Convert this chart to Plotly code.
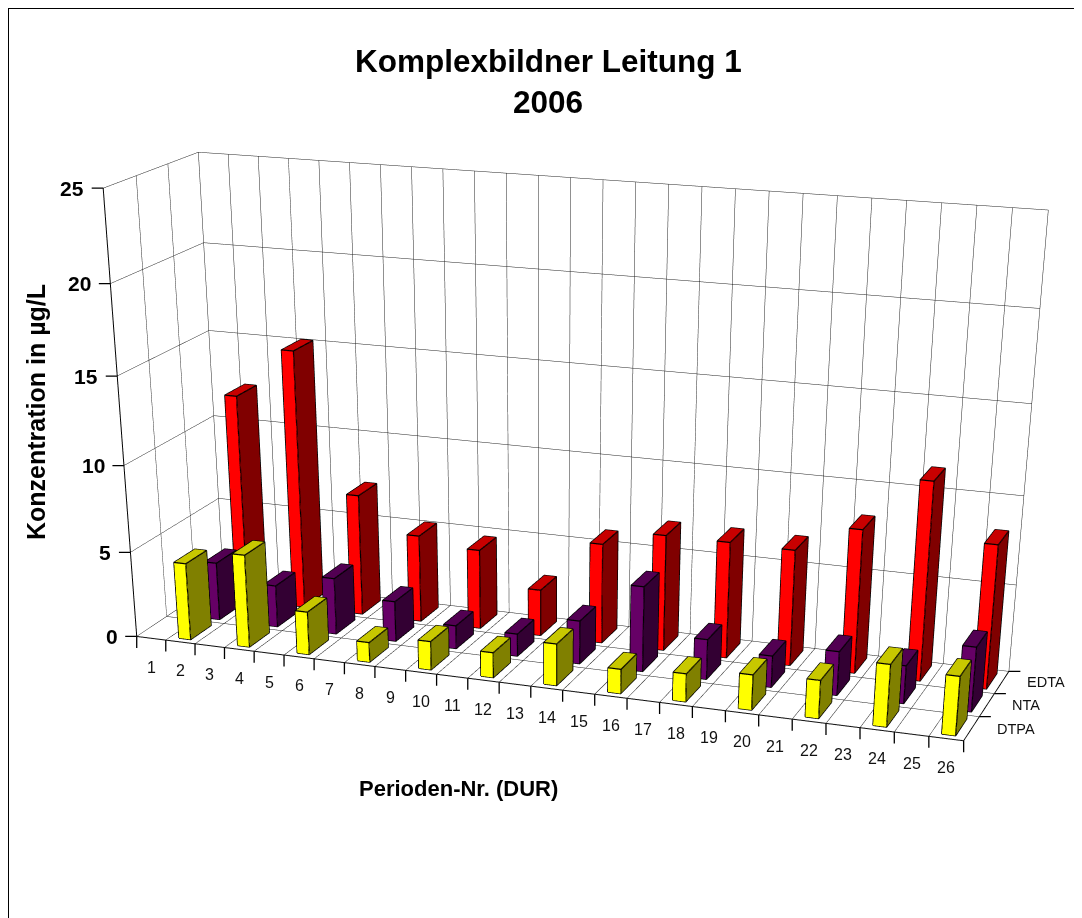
import plotly.graph_objects as go

# ---------- data ----------
periods = list(range(2, 27, 2))
all_periods = list(range(1, 27))
series_names = ["DTPA", "NTA", "EDTA"]
edta = [12.2, 15.1, 7.1, 5.1, 4.65, 2.7, 5.8, 6.7, 6.7, 6.65, 8.2, 11.25, 8.15]
nta = [3.4, 2.45, 3.3, 2.35, 1.35, 1.3, 2.5, 4.9, 2.3, 1.8, 2.5, 2.15, 3.65]
dtpa = [4.5, 5.4, 2.5, 1.15, 1.65, 1.45, 2.4, 1.4, 1.6, 2.0, 2.15, 3.5, 3.3]
z_ticks = [0, 5, 10, 15, 20, 25]

# ---------- layout constants ----------
# The page has an 8 px body margin. The plot is taller than the window so that the
# fixed 45 degree field of view of the 3D scene gives the reference's long-lens look.
W, H = 1074, 2320
FONT = "Liberation Sans, Arial, sans-serif"
BAR_W, BAR_D = 0.2, 0.35
PALETTE = {
    "DTPA": ("#FFFF00", "#808000", "#C8C800"),
    "NTA": ("#660066", "#330033", "#520052"),
    "EDTA": ("#FF0000", "#800000", "#C80000"),
}


def bars(name, row, values):
    front, side, top = PALETTE[name]
    xs, ys, zs, i, j, k, colors = [], [], [], [], [], [], []
    lx, ly, lz = [], [], []
    for per, val in zip(periods, values):
        n = len(xs)
        x0, x1, y0, y1 = per - BAR_W, per + BAR_W, row + 0.5 - BAR_D, row + 0.5 + BAR_D
        xs += [x0, x1, x1, x0, x0, x1, x1, x0]
        ys += [y0, y0, y1, y1, y0, y0, y1, y1]
        zs += [0, 0, 0, 0, val, val, val, val]
        faces = [((0, 1, 5), front), ((0, 5, 4), front), ((1, 2, 6), side),
                 ((1, 6, 5), side), ((4, 5, 6), top), ((4, 6, 7), top)]
        for (a, b, c), col in faces:
            i.append(n + a); j.append(n + b); k.append(n + c); colors.append(col)
        for path in [(0, 1, 2, 6, 7, 4, 0), (1, 5, 4), (5, 6)]:
            for v in path:
                lx.append(xs[n + v]); ly.append(ys[n + v]); lz.append(zs[n + v])
            lx.append(None); ly.append(None); lz.append(None)
    fig.add_trace(go.Mesh3d(x=xs, y=ys, z=zs, i=i, j=j, k=k, facecolor=colors, flatshading=True,
                            lighting=dict(ambient=1, diffuse=0, specular=0, fresnel=0, roughness=1),
                            hoverinfo="skip", showscale=False))
    fig.add_trace(go.Scatter3d(x=lx, y=ly, z=lz, mode="lines", line=dict(color="black", width=2.5),
                               hoverinfo="skip", showlegend=False))


fig = go.Figure()

# floor grid
gx, gy, gz = [], [], []
for b in range(0, 27):
    gx += [b + 0.5, b + 0.5, None]; gy += [0, 3, None]; gz += [0, 0, None]
for r in range(0, 4):
    gx += [0.5, 26.5, None]; gy += [r, r, None]; gz += [0, 0, None]
fig.add_trace(go.Scatter3d(x=gx, y=gy, z=gz, mode="lines", line=dict(color="#222", width=1),
                           hoverinfo="skip", showlegend=False))

bars("EDTA", 2, edta)
bars("NTA", 1, nta)
bars("DTPA", 0, dtpa)

ann3d = []
tick = dict(text="", showarrow=True, arrowhead=0, arrowwidth=1.3, arrowcolor="black")
for q in all_periods:
    ann3d.append(dict(x=q, y=0, z=0, text=str(q), showarrow=False, yshift=-29,
                      font=dict(family=FONT, size=16, color="#111")))
for b in range(0, 27):
    ann3d.append(dict(x=b + 0.5, y=0, z=0, ax=0, ay=13, **tick))
for r, name in enumerate(series_names):
    ann3d.append(dict(x=26.5, y=r + 0.5, z=0, text=name, showarrow=False, xanchor="left", xshift=23,
                      font=dict(family=FONT, size=14.5, color="#111")))
for r in range(1, 4):
    ann3d.append(dict(x=26.5, y=r, z=0, ax=13, ay=0, **tick))
for t in z_ticks:
    ann3d.append(dict(x=0.5, y=0, z=t, text=str(t), showarrow=False, xanchor="right", xshift=-17,
                      font=dict(family=FONT, size=21, color="black", weight="bold")))
    ann3d.append(dict(x=0.5, y=0, z=t, ax=-13, ay=0, **tick))


def axis(**kw):
    return dict(showticklabels=False, showbackground=False, showspikes=False, title=dict(text=""),
                showgrid=True, gridcolor="#222", gridwidth=1, showline=True, linecolor="black", linewidth=2,
                zeroline=False, ticks="", **kw)


def px(x):
    return (x - 8) / W


def py(y):
    return 1 - (y - 8) / H


def label(text, x, y, size, **kw):
    return dict(text=f"<b>{text}</b>", x=px(x), y=py(y), xref="paper", yref="paper", xanchor="center",
                yanchor="middle", showarrow=False, font=dict(family=FONT, size=size, color="black"), **kw)


fig.update_layout(
    width=W, height=H, margin=dict(l=0, r=0, t=0, b=0), showlegend=False, paper_bgcolor="white",
    scene=dict(
        domain=dict(x=[0, 1], y=[0, 1]),
        xaxis=axis(range=[0.5, 26.5], tickvals=[v + 0.5 for v in range(0, 27)]),
        yaxis=axis(range=[0, 3], tickvals=[0, 1, 2, 3]),
        zaxis=axis(range=[0, 25], tickvals=z_ticks),
        aspectmode="manual", aspectratio=dict(x=1, y=0.2354, z=0.5117),
        camera=dict(eye=dict(x=1.0582, y=-2.9650, z=0.8405), center=dict(x=0.1890, y=-0.5876, z=-0.5980),
                    up=dict(x=0, y=0, z=1)),
        annotations=ann3d,
    ),
    annotations=[
        label("Komplexbildner Leitung 1", 548, 61, 31.5),
        label("2006", 548, 102, 31.5),
        label("Konzentration in µg/L", 36, 412, 25, textangle=-90),
        label("Perioden-Nr. (DUR)", 459, 788, 22),
    ],
    shapes=[
        dict(type="line", xref="paper", yref="paper", x0=0, x1=1, y0=py(8), y1=py(8), line=dict(color="black", width=2)),
        dict(type="line", xref="paper", yref="paper", x0=0, x1=0, y0=py(8), y1=0, line=dict(color="black", width=2)),
    ],
)
fig.write_html("out.html")
